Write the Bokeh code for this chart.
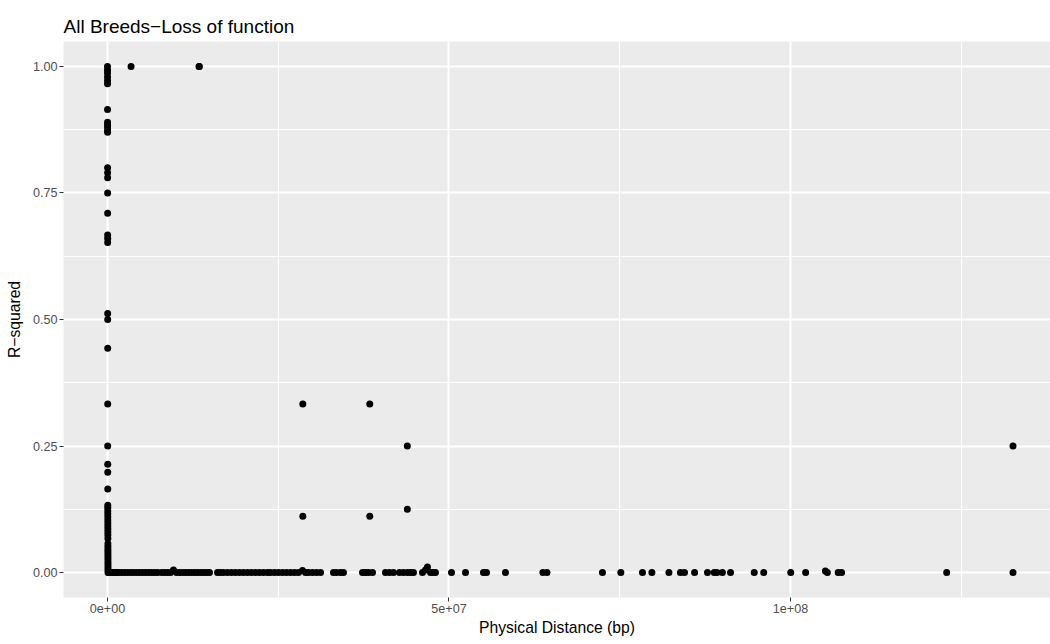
from bokeh.plotting import figure
from bokeh.models import FixedTicker, Range1d, CustomJSTickFormatter, PrintfTickFormatter
from bokeh.embed import file_html
from bokeh.resources import INLINE

# ---- data ----
# pairs at (near) zero physical distance
zero_dist_bp = [0, 1500, 3000, 4500, 6000, 7500, 9000, 10500, 12000, 13500,
                15000, 16500, 18000, 19500, 21000, 22500, 24000, 25500, 27000, 28500,
                30000, 31500, 33000, 34500, 36000, 37500, 39000, 40500, 42000, 43500,
                45000, 46500, 48000, 49500, 51000, 52500, 54000, 55500, 57000, 58500,
                60000, 61500, 63000, 64500, 66000, 67500, 69000, 70500, 72000, 73500,
                75000, 76500]
zero_r2 = [1.00, 0.993, 0.987, 0.979, 0.972, 0.966, 0.915, 0.89, 0.885, 0.88,
           0.875, 0.87, 0.80, 0.79, 0.78, 0.75, 0.71, 0.667, 0.66, 0.652,
           0.512, 0.50, 0.443, 0.333, 0.25, 0.214, 0.198, 0.165, 0.133, 0.128,
           0.122, 0.116, 0.11, 0.104, 0.098, 0.092, 0.086, 0.08, 0.074, 0.067,
           0.057, 0.051, 0.045, 0.04, 0.035, 0.03, 0.025, 0.02, 0.015, 0.01,
           0.005, 0.0]

# pairs with r-squared near zero along the distance axis (Mb)
base_dist_mb = [0.15, 0.29, 0.44, 0.73, 1.02, 1.32, 1.61, 2.05, 2.49, 2.93,
                3.37, 3.81, 4.25, 4.69, 5.12, 5.56, 6.00, 6.44, 6.88, 7.32,
                7.91, 8.35, 8.78, 9.22, 9.66, 10.10, 10.54, 10.98, 11.42, 11.86,
                12.30, 12.74, 13.18, 13.62, 14.06, 14.50, 14.93, 16.11, 16.54, 16.98,
                17.57, 18.16, 18.74, 19.33, 19.91, 20.50, 21.08, 21.67, 22.25, 22.84,
                23.43, 23.87, 24.45, 25.04, 25.62, 26.21, 26.79, 27.38, 27.97, 28.55,
                28.99, 29.43, 30.01, 30.60, 31.19, 33.09, 33.53, 34.11, 34.55, 37.34,
                37.77, 38.21, 38.80, 40.70, 41.29, 41.87, 42.75, 43.34, 43.92, 44.36,
                44.80, 46.12, 46.56, 46.85, 47.29, 47.58, 48.02, 50.37, 52.42, 55.05,
                55.49, 58.27, 63.75, 64.34, 72.47, 75.16, 78.33, 79.71, 82.20, 83.88,
                84.48, 85.96, 87.85, 88.84, 89.24, 90.03, 91.22, 94.69, 96.08, 100.04,
                102.22, 105.11, 105.40, 106.98, 107.48, 122.87, 132.58]
base_r2 = [0.0, 0.0, 0.0, 0.0, 0.0, 0.0, 0.0, 0.0, 0.0, 0.0,
           0.0, 0.0, 0.0, 0.0, 0.0, 0.0, 0.0, 0.0, 0.0, 0.0,
           0.0, 0.0, 0.0, 0.0, 0.005, 0.0, 0.0, 0.0, 0.0, 0.0,
           0.0, 0.0, 0.0, 0.0, 0.0, 0.0, 0.0, 0.0, 0.0, 0.0,
           0.0, 0.0, 0.0, 0.0, 0.0, 0.0, 0.0, 0.0, 0.0, 0.0,
           0.0, 0.0, 0.0, 0.0, 0.0, 0.0, 0.0, 0.0, 0.0, 0.004,
           0.0, 0.0, 0.0, 0.0, 0.0, 0.0, 0.0, 0.0, 0.0, 0.0,
           0.0, 0.0, 0.0, 0.0, 0.0, 0.0, 0.0, 0.0, 0.0, 0.0,
           0.0, 0.0, 0.005, 0.011, 0.0, 0.0, 0.0, 0.0, 0.0, 0.0,
           0.0, 0.0, 0.0, 0.0, 0.0, 0.0, 0.0, 0.0, 0.0, 0.0,
           0.0, 0.0, 0.0, 0.0, 0.0, 0.0, 0.0, 0.0, 0.0, 0.0,
           0.0, 0.003, 0.0, 0.0, 0.0, 0.0, 0.0]

# isolated higher r-squared pairs (Mb)
other_dist_mb = [3.45, 13.40, 13.45, 28.60, 28.60, 38.40, 38.40, 43.90, 43.90, 132.58]
other_r2 = [1.0, 1.0, 1.0, 0.333, 0.111, 0.333, 0.111, 0.25, 0.125, 0.25]

y_ticks = [0.0, 0.25, 0.5, 0.75, 1.0]
y_minor = [0.125, 0.375, 0.625, 0.875]
x_ticks = [0, 5e7, 1e8]
x_minor = [2.5e7, 7.5e7, 1.25e8]

dist = zero_dist_bp + [d * 1e6 for d in base_dist_mb] + [d * 1e6 for d in other_dist_mb]
r2 = zero_r2 + base_r2 + other_r2

FONT = "Liberation Sans"

p = figure(width=1050, height=644, output_backend="svg", toolbar_location=None,
           x_range=Range1d(-6.44e6, 1.3807e8), y_range=Range1d(-0.0494, 1.0494),
           min_border_left=63, min_border_right=0, min_border_top=41, min_border_bottom=47,
           title="All Breeds\u2212Loss of function")

p.background_fill_color = "#EBEBEB"
p.border_fill_color = "white"
p.outline_line_color = None

p.title.text_font = FONT
p.title.text_font_size = "19px"
p.title.text_font_style = "normal"
p.title.text_color = "black"
p.title.align = "left"
p.title.offset = 0
p.title.standoff = 9

p.scatter(dist, r2, size=7, color="black", line_color=None)

p.xaxis.ticker = FixedTicker(ticks=x_ticks, minor_ticks=x_minor)
p.yaxis.ticker = FixedTicker(ticks=y_ticks, minor_ticks=y_minor)
p.xaxis.formatter = CustomJSTickFormatter(code="""
if (tick == 0) { return "0e+00"; }
const e = Math.floor(Math.log10(Math.abs(tick)) + 1e-9);
const m = Math.round(tick / Math.pow(10, e));
return m + "e+" + (e < 10 ? "0" + e : e);
""")
p.yaxis.formatter = PrintfTickFormatter(format="%.2f")

for ax in (p.xaxis[0], p.yaxis[0]):
    ax.axis_line_color = None
    ax.major_tick_line_color = "#333333"
    ax.major_tick_line_width = 1
    ax.major_tick_in = 0
    ax.major_tick_out = 4
    ax.minor_tick_line_color = None
    ax.major_label_text_font = FONT
    ax.major_label_text_font_size = "12.6px"
    ax.major_label_text_color = "#4D4D4D"
    ax.major_label_standoff = 2
    ax.axis_label_text_font = FONT
    ax.axis_label_text_font_size = "15.7px"
    ax.axis_label_text_font_style = "normal"
    ax.axis_label_text_color = "black"

p.xaxis.axis_label = "Physical Distance (bp)"
p.yaxis.axis_label = "R\u2212squared"
p.xaxis.axis_label_standoff = 3
p.yaxis.axis_label_standoff = 7

for g in (p.xgrid[0], p.ygrid[0]):
    g.grid_line_color = "white"
    g.grid_line_width = 2
    g.minor_grid_line_color = "white"
    g.minor_grid_line_width = 1

open("out.html", "w").write(file_html(p, INLINE))
